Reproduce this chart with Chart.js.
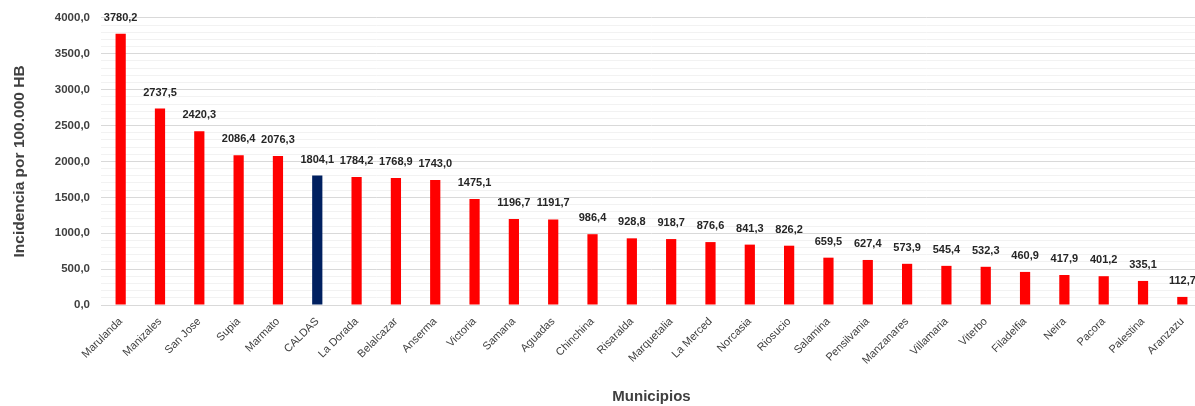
<!DOCTYPE html>
<html>
<head>
<meta charset="utf-8">
<script src="https://cdn.jsdelivr.net/npm/chart.js@4/dist/chart.umd.min.js"></script>
<style>
  html, body { margin: 0; padding: 0; background: #fff; overflow: hidden; }
  #wrap { width: 1202px; height: 406px; }
</style>
</head>
<body>
<div id="wrap"><canvas id="bar-chartcanvas"></canvas></div>
<script>
// municipios de Caldas
var municipios = ["Marulanda", "Manizales", "San Jose", "Supia", "Marmato", "CALDAS",
    "La Dorada", "Belalcazar", "Anserma", "Victoria", "Samana", "Aguadas", "Chinchina",
    "Risaralda", "Marquetalia", "La Merced", "Norcasia", "Riosucio", "Salamina",
    "Pensilvania", "Manzanares", "Villamaria", "Viterbo", "Filadelfia", "Neira",
    "Pacora", "Palestina", "Aranzazu"];

// incidencia por 100.000 HB
var incidencia = [3780.2, 2737.5, 2420.3, 2086.4, 2076.3, 1804.1, 1784.2, 1768.9,
    1743.0, 1475.1, 1196.7, 1191.7, 986.4, 928.8, 918.7, 876.6, 841.3, 826.2,
    659.5, 627.4, 573.9, 545.4, 532.3, 460.9, 417.9, 401.2, 335.1, 112.7];

var yTicks = [0, 500, 1000, 1500, 2000, 2500, 3000, 3500, 4000];

function coma(v) {
    return v.toFixed(1).replace(".", ",");
}

//value labels on top of each bar
var etiquetas = {
    id: "etiquetas",
    afterDatasetsDraw: function(chart) {
        var ctx = chart.ctx;
        var meta = chart.getDatasetMeta(0);
        ctx.save();
        ctx.font = "bold 11px 'Liberation Sans'";
        ctx.fillStyle = "#262626";
        ctx.textAlign = "center";
        ctx.textBaseline = "middle";
        meta.data.forEach(function(bar, i) {
            ctx.fillText(coma(incidencia[i]), bar.x, bar.y - 16);
        });
        ctx.restore();
    }
};

var ctx1 = document.getElementById("bar-chartcanvas");

var chart1 = new Chart(ctx1, {
    type: "bar",
    data: {
        labels: municipios,
        datasets: [{
            data: incidencia,
            backgroundColor: municipios.map(function(m) {
                return m === "CALDAS" ? "#002060" : "#ff0000";
            }),
            categoryPercentage: 1,
            barPercentage: 0.26
        }]
    },
    options: {
        responsive: true,
        maintainAspectRatio: false,
        animation: false,
        layout: { padding: { top: 15, left: 0, right: 0, bottom: 0 } },
        plugins: {
            legend: { display: false },
            tooltip: { enabled: false }
        },
        scales: {
            x: {
                grid: { display: false },
                border: { color: "#d9d9d9" },
                ticks: {
                    minRotation: 45,
                    maxRotation: 45,
                    autoSkip: false,
                    padding: 2,
                    color: "#404040",
                    font: { family: "'Liberation Sans'", size: 11 }
                },
                title: {
                    display: true,
                    text: "Municipios",
                    color: "#404040",
                    padding: { top: 4, bottom: 0 },
                    font: { family: "'Liberation Sans'", size: 15, weight: "bold" }
                },
                afterFit: function(scale) { scale.height = 101; }
            },
            y: {
                min: 0,
                max: 4000,
                border: { display: false },
                grid: {
                    drawTicks: false,
                    color: function(c) {
                        return yTicks.indexOf(c.tick.value) >= 0 ? "#d9d9d9" : "#f2f2f2";
                    }
                },
                ticks: {
                    stepSize: 100,
                    autoSkip: false,
                    padding: 11,
                    color: "#404040",
                    font: { family: "'Liberation Sans'", size: 11.5, weight: "bold" },
                    callback: function(v) {
                        return yTicks.indexOf(v) >= 0 ? coma(v) : "";
                    }
                },
                title: {
                    display: true,
                    text: "Incidencia por 100.000 HB",
                    color: "#404040",
                    padding: { top: 10, bottom: 0 },
                    font: { family: "'Liberation Sans'", size: 15.5, weight: "bold" }
                },
                afterFit: function(scale) { scale.width = 101; }
            }
        }
    },
    plugins: [etiquetas]
});
</script>
</body>
</html>
